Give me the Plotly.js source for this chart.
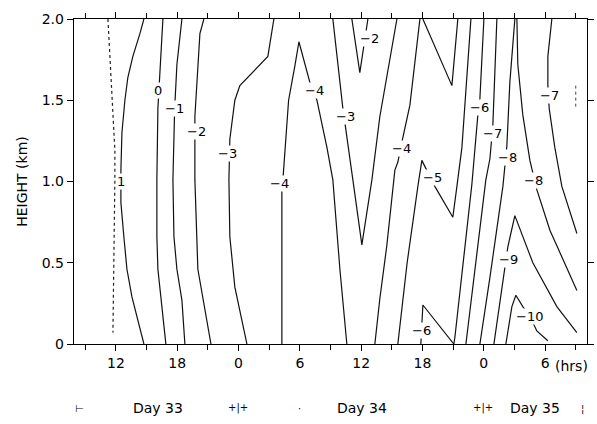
<!DOCTYPE html>
<html>
<head>
<meta charset="utf-8">
<script src="https://cdn.plot.ly/plotly-3.0.1.min.js"></script>
<style>html,body{margin:0;padding:0;background:#fff;}#chart{width:597px;height:424px;}</style>
</head>
<body>
<div id="chart"></div>
<script>
// Time in hours from 00h of Day 33; height in km.
const tickHours = [12, 18, 24, 30, 36, 42, 48, 54];
const tickLabels = ['12', '18', '0', '6', '12', '18', '0', '6'];
const heightTicks = [0, 0.5, 1.0, 1.5, 2.0];
const heightLabels = ['0', '0.5', '1.0', '1.5', '2.0'];

// Isolines (time, height)
const cDot_t = [11.22, 11.61, 11.90, 11.90, 11.80, 11.71];
const cDot_h = [2.0, 1.51, 1.19, 1.01, 0.58, 0.07];
const cP1_t = [14.74, 14.35, 13.66, 13.17, 12.88, 12.59, 12.49, 12.49, 12.78, 13.08, 13.57, 14.15, 14.74];
const cP1_h = [2.0, 1.91, 1.77, 1.64, 1.50, 1.30, 1.07, 0.87, 0.66, 0.46, 0.29, 0.15, 0.0];
const c0_t = [16.60, 16.30, 16.11, 16.01, 16.01, 16.11, 16.50, 16.89];
const c0_h = [2.0, 1.70, 1.45, 1.01, 0.66, 0.46, 0.25, 0.0];
const cM1_t = [18.46, 17.97, 17.75, 17.58, 17.68, 17.97, 18.46, 18.75];
const cM1_h = [2.0, 1.72, 1.45, 1.01, 0.66, 0.46, 0.27, 0.0];
const cM2_t = [20.61, 20.22, 19.73, 19.73, 20.02, 20.71, 21.30];
const cM2_h = [2.0, 1.91, 1.40, 1.01, 0.46, 0.21, 0.0];
const cM3a_t = [27.46, 26.87, 24.13, 23.64, 23.15, 23.06, 23.15, 23.64, 24.82];
const cM3a_h = [2.0, 1.77, 1.59, 1.50, 1.26, 1.01, 0.66, 0.35, 0.0];
const cM4a_t = [28.24, 28.24, 28.34, 28.9, 29.51, 29.91, 30.98, 31.67, 32.65, 33.23, 33.92, 34.60];
const cM4a_h = [0.0, 0.95, 1.01, 1.50, 1.71, 1.86, 1.61, 1.50, 1.21, 1.01, 0.46, 0.0];
const cM3b_t = [33.23, 34.21, 35.19, 36.07, 37.05, 37.83, 39.50];
const cM3b_h = [2.0, 1.45, 1.01, 0.61, 1.01, 1.40, 2.0];
const cM2b_t = [35.09, 35.87, 36.66];
const cM2b_h = [2.0, 1.67, 2.0];
const cM4b_t = [41.75, 40.77, 40.08, 39.59, 39.30, 38.50, 37.83, 37.34];
const cM4b_h = [2.0, 1.47, 1.27, 1.12, 1.07, 0.60, 0.28, 0.0];
const cV_t = [42.04, 44.88, 45.46];
const cV_h = [2.0, 1.59, 2.0];
const cM5_t = [46.74, 46.34, 45.86, 45.37, 44.97, 43.21, 41.94, 41.55, 40.50, 39.59];
const cM5_h = [2.0, 1.61, 1.21, 0.97, 0.78, 0.97, 1.13, 0.97, 0.50, 0.0];
const cM6a_t = [48.01, 47.62, 47.42, 46.83, 45.17, 45.07];
const cM6a_h = [2.0, 1.51, 1.41, 0.98, 0.04, 0.0];
const cM6b_t = [41.84, 42.04, 45.07];
const cM6b_h = [0.0, 0.24, 0.0];
const cM7a_t = [49.28, 48.89, 48.60, 48.20, 46.25];
const cM7a_h = [2.0, 1.35, 1.14, 1.01, 0.0];
const cM8a_t = [51.04, 50.55, 50.26, 49.87, 48.60, 47.62];
const cM8a_h = [2.0, 1.61, 1.22, 0.97, 0.41, 0.0];
const cM8b_t = [51.24, 51.33, 51.82, 52.51, 53.19, 54.47, 57.11];
const cM8b_h = [2.0, 1.72, 1.41, 1.13, 0.95, 0.70, 0.33];
const cM7b_t = [54.66, 54.27, 54.27, 54.40, 54.95, 55.64, 57.11];
const cM7b_h = [2.0, 1.77, 1.59, 1.45, 1.21, 0.97, 0.68];
const cSpeck_t = [57.0, 57.0];
const cSpeck_h = [1.59, 1.45];
const cM9_t = [48.99, 50.06, 50.36, 51.04, 52.80, 55.15, 57.11];
const cM9_h = [0.0, 0.455, 0.60, 0.79, 0.50, 0.23, 0.07];
const cM10_t = [50.16, 50.75, 51.14, 51.82, 52.60, 53.19, 54.27];
const cM10_h = [0.0, 0.23, 0.30, 0.23, 0.16, 0.08, 0.02];

// Isoline labels
const labelText = ['1', '0', '\u22121', '\u22122', '\u22123', '\u22124', '\u22123', '\u22122', '\u22124', '\u22124', '\u22125', '\u22126', '\u22126', '\u22127', '\u22128', '\u22128', '\u22127', '\u22129', '\u221210'];
const labelTime = [12.5, 16.11, 17.77, 19.93, 22.96, 31.47, 34.50, 36.85, 28.05, 39.98, 43.02, 47.62, 41.94, 48.89, 50.36, 52.83, 54.47, 50.45, 52.5];
const labelHeight = [1.0, 1.563, 1.452, 1.305, 1.175, 1.557, 1.397, 1.883, 0.99, 1.206, 1.022, 1.458, 0.086, 1.298, 1.145, 1.009, 1.532, 0.517, 0.17];

// Day row below axis
const dayText = ['Day 33', 'Day 34', 'Day 35'];
const dayCenter = [16.1, 36.07, 53.0];
const markText = ['\u22a2', '+|+', '\u00b7', '+|+', '\u00a6'];
const markTime = [8.4, 23.9, 30.0, 47.9, 57.7];

const solid = [
  [cP1_t, cP1_h], [c0_t, c0_h], [cM1_t, cM1_h], [cM2_t, cM2_h], [cM3a_t, cM3a_h],
  [cM4a_t, cM4a_h], [cM3b_t, cM3b_h], [cM2b_t, cM2b_h], [cM4b_t, cM4b_h], [cV_t, cV_h],
  [cM5_t, cM5_h], [cM6a_t, cM6a_h], [cM6b_t, cM6b_h], [cM7a_t, cM7a_h], [cM8a_t, cM8a_h],
  [cM8b_t, cM8b_h], [cM7b_t, cM7b_h], [cM9_t, cM9_h], [cM10_t, cM10_h]
];
const traces = solid.map(p => ({
  x: p[0], y: p[1], type: 'scatter', mode: 'lines',
  line: {color: '#111', width: 1.2}, hoverinfo: 'skip', showlegend: false
}));
traces.push({x: cDot_t, y: cDot_h, type: 'scatter', mode: 'lines',
  line: {color: '#222', width: 1.2, dash: 'dot'}, hoverinfo: 'skip', showlegend: false});
traces.push({x: cSpeck_t, y: cSpeck_h, type: 'scatter', mode: 'lines',
  line: {color: '#444', width: 1, dash: 'dot'}, hoverinfo: 'skip', showlegend: false});

const FONT = 'DejaVu Sans, sans-serif';
const annotations = [];
labelText.forEach((t, i) => annotations.push({
  x: labelTime[i], y: labelHeight[i], xref: 'x', yref: 'y', text: t, showarrow: false,
  font: {family: FONT, size: 13, color: '#000'}, bgcolor: '#fff', borderpad: 0
}));
dayText.forEach((t, i) => annotations.push({
  x: dayCenter[i], y: -0.197, xref: 'x', yref: 'paper', text: t, showarrow: false,
  font: {family: FONT, size: 14, color: '#000'}, yanchor: 'middle'
}));
markText.forEach((t, i) => annotations.push({
  x: markTime[i], y: -0.197, xref: 'x', yref: 'paper', text: t, showarrow: false,
  font: {family: FONT, size: 10, color: '#000'}, yanchor: 'middle'
}));
annotations.push({x: 56.6, y: -0.0677, xref: 'x', yref: 'paper', text: '(hrs)', showarrow: false,
  font: {family: FONT, size: 14, color: '#000'}, yanchor: 'middle'});

const layout = {
  width: 597, height: 424,
  margin: {l: 74, r: 10, t: 19, b: 80},
  paper_bgcolor: '#fff', plot_bgcolor: '#fff',
  font: {family: FONT, size: 14, color: '#000'},
  xaxis: {
    range: [7.9, 58.1], tickmode: 'array', tickvals: tickHours, ticktext: tickLabels,
    ticks: 'outside', ticklen: 6, tickwidth: 1, tickcolor: '#000',
    minor: {tickmode: 'linear', tick0: 0, dtick: 3, ticks: 'outside', ticklen: 5, tickcolor: '#000', showgrid: false},
    showline: true, linecolor: '#000', linewidth: 1.3, mirror: 'ticks',
    showgrid: false, zeroline: false, tickfont: {family: FONT, size: 14}
  },
  yaxis: {
    range: [0, 2.0], tickmode: 'array', tickvals: heightTicks, ticktext: heightLabels,
    ticks: 'outside', ticklen: 6, tickwidth: 1, tickcolor: '#000',
    showline: true, linecolor: '#000', linewidth: 1.3, mirror: 'ticks',
    showgrid: false, zeroline: false, tickfont: {family: FONT, size: 14},
    title: {text: 'HEIGHT (km)', font: {family: FONT, size: 14}, standoff: 10}
  },
  annotations: annotations
};
Plotly.newPlot('chart', traces, layout, {displayModeBar: false, staticPlot: true});
</script>
</body>
</html>
